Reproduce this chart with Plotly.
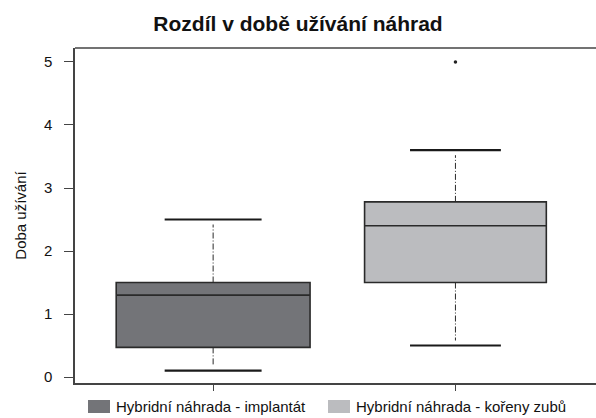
import plotly.graph_objects as go

# ---- data ----
categories = ["Hybridní náhrada - implantát", "Hybridní náhrada - kořeny zubů"]
q1 = [0.47, 1.50]
median = [1.30, 2.40]
q3 = [1.50, 2.78]
whisker_low = [0.10, 0.50]
whisker_high = [2.50, 3.60]
outlier_x = [1]
outlier_y = [5.0]
y_ticks = [0, 1, 2, 3, 4, 5]

# ---- style ----
fills = ["#737478", "#bbbcbf"]
box_widths = [0.80, 0.75]
edge = "#2a2a2a"
axis_col = "#444444"
font = "Liberation Sans, Arial, Helvetica, sans-serif"

y_range = [-0.095, 5.222]
plot_h_px = 335
px_to_y = (y_range[1] - y_range[0]) / plot_h_px
cap_gap = 5 * px_to_y

fig = go.Figure()

for i, name in enumerate(categories):
    fig.add_trace(go.Box(
        x=[i], q1=[q1[i]], median=[median[i]], q3=[q3[i]],
        lowerfence=[q1[i]], upperfence=[q3[i]],
        width=box_widths[i], whiskerwidth=0,
        fillcolor=fills[i], line=dict(color=edge, width=1.6),
        boxpoints=False, showlegend=False, hoverinfo="skip",
    ))
    half_cap = box_widths[i] / 4
    # whiskers (dash-dot)
    fig.add_trace(go.Scatter(
        x=[i, i], y=[q3[i], whisker_high[i] - cap_gap], mode="lines",
        line=dict(color=edge, width=1, dash="6px,2px,1px,2px"),
        showlegend=False, hoverinfo="skip"))
    fig.add_trace(go.Scatter(
        x=[i, i], y=[q1[i], whisker_low[i] + cap_gap], mode="lines",
        line=dict(color=edge, width=1, dash="6px,2px,1px,2px"),
        showlegend=False, hoverinfo="skip"))
    # caps
    for v in (whisker_low[i], whisker_high[i]):
        fig.add_trace(go.Scatter(
            x=[i - half_cap, i + half_cap], y=[v, v], mode="lines",
            line=dict(color="#1a1a1a", width=2.2),
            showlegend=False, hoverinfo="skip"))

fig.add_trace(go.Scatter(
    x=outlier_x, y=outlier_y, mode="markers",
    marker=dict(color="#222222", size=3.5),
    showlegend=False, hoverinfo="skip"))

# manual legend
legend_items = [(88, 110, 114), (328, 350, 354)]
shapes = [dict(type="line", xref="paper", yref="paper", x0=0, x1=1, y0=1, y1=1,
               line=dict(color=axis_col, width=1.5))]
annotations = []
for (x0, x1, tx), name, col in zip(legend_items, categories, fills):
    shapes.append(dict(type="rect", xref="paper", yref="paper",
                       x0=(x0 - 75) / 521, x1=(x1 - 75) / 521,
                       y0=-(413 - 383) / 335, y1=-(400 - 383) / 335,
                       fillcolor=col, line=dict(width=0)))
    annotations.append(dict(text=name, xref="paper", yref="paper",
                            x=(tx - 75) / 521, y=-(406.5 - 383) / 335,
                            xanchor="left", yanchor="middle", showarrow=False,
                            font=dict(size=15, color="#111111", family=font)))

fig.update_layout(
    width=596, height=418,
    margin=dict(l=75, r=0, t=48, b=35, autoexpand=False),
    paper_bgcolor="white", plot_bgcolor="white",
    font=dict(family=font, size=15, color="#111111"),
    title=dict(text="<b>Rozdíl v době užívání náhrad</b>", x=0.5, xanchor="center",
               y=1 - 24 / 418, yanchor="middle", font=dict(size=21, color="#111111")),
    shapes=shapes, annotations=annotations,
    showlegend=False,
)
fig.update_xaxes(range=[-0.57, 1.58], tickvals=[0, 1], ticktext=["", ""],
                 showticklabels=False, ticks="outside", ticklen=6, tickwidth=1.2,
                 tickcolor=axis_col, showline=True, linecolor=axis_col, linewidth=1.5,
                 showgrid=False, zeroline=False)
fig.update_yaxes(range=y_range, tickvals=y_ticks, ticks="outside", ticklen=9,
                 tickwidth=1.2, tickcolor=axis_col, showline=True, linecolor=axis_col,
                 linewidth=1.5, showgrid=False, zeroline=False,
                 ticklabelstandoff=9, tickfont=dict(size=15),
                 title=dict(text="Doba užívání", standoff=14, font=dict(size=15)))

fig.write_html("out.html", config={"displayModeBar": False},
               post_script="document.body.style.margin='0';")
